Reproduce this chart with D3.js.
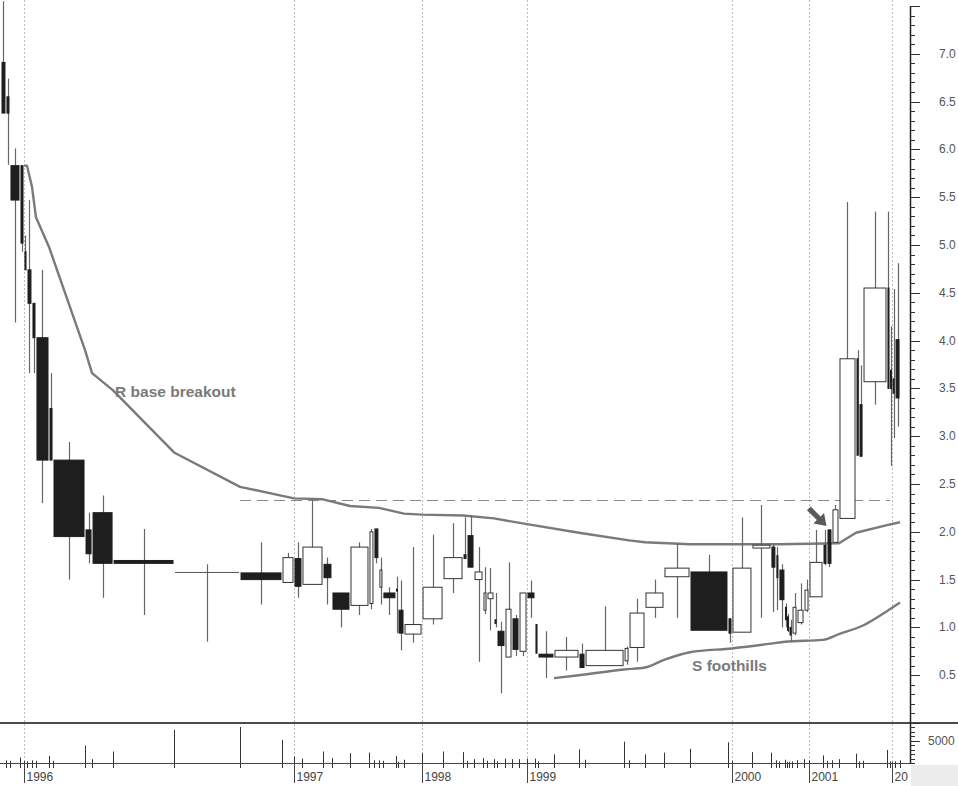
<!DOCTYPE html>
<html><head><meta charset="utf-8">
<script src="https://cdn.jsdelivr.net/npm/d3@7"></script>
<style>body{margin:0;background:#fff}svg{display:block}</style>
</head><body>
<script>
// ---- data ----
const opens  = [6.91,6.55,5.83,5.83,4.93,4.74,4.39,4.03,3.29,2.75,2.02,2.20,1.70,1.58,1.57,1.47,1.72,1.45,1.66,1.36,1.23,1.25,2.03,1.42,1.36,1.40,1.18,0.93,1.09,1.51,1.76,1.96,1.50,1.18,1.30,1.08,0.96,0.69,1.09,0.75,1.36,1.03,0.72,0.69,0.72,0.60,0.65,0.79,1.21,1.53,1.58,1.09,0.95,1.83,1.84,1.75,1.60,1.21,1.11,1.00,0.94,1.05,1.18,1.32,1.86,2.02,1.89,2.14,3.81,3.33,3.57,4.55,3.69,3.60,4.01];
const highs  = [7.55,6.74,6.01,5.83,5.10,5.47,4.39,4.74,3.66,2.94,2.20,2.38,2.03,1.66,1.89,1.78,1.89,2.33,1.73,1.36,1.89,2.03,2.03,1.73,1.42,1.53,1.49,1.84,1.97,2.09,2.15,2.17,1.84,1.63,1.62,1.36,1.06,1.68,1.13,1.36,1.49,1.03,0.96,0.90,0.83,1.22,0.80,1.30,1.50,1.88,1.76,1.09,2.15,2.28,1.88,1.84,1.66,1.25,1.14,1.08,1.36,1.46,1.50,2.02,2.02,2.02,2.28,5.45,3.90,3.74,5.35,5.35,4.15,4.54,4.81];
const lows   = [6.38,5.84,4.19,4.93,4.74,3.66,3.66,2.30,2.75,1.50,1.67,1.31,1.13,0.85,1.24,1.47,1.31,1.45,1.24,1.00,1.13,1.19,1.67,1.24,1.13,0.94,0.76,0.84,1.03,1.36,1.72,1.63,0.64,1.14,0.97,1.00,0.31,0.69,0.70,0.70,1.10,0.73,0.47,0.55,0.58,0.60,0.61,0.64,1.10,1.10,0.97,0.84,0.95,1.10,1.16,1.18,1.00,1.00,0.95,0.85,0.92,1.03,1.16,1.32,1.65,1.63,1.89,2.14,2.80,2.79,3.33,3.50,2.69,2.98,3.10];
const closes = [6.38,6.38,5.47,5.02,4.74,4.39,4.03,2.75,2.75,1.95,1.77,1.67,1.67,1.58,1.50,1.73,1.43,1.84,1.52,1.19,1.84,2.00,1.73,1.60,1.31,1.38,0.94,1.03,1.42,1.73,1.72,1.63,1.58,1.36,1.36,1.04,0.81,1.19,0.77,1.36,1.31,0.73,0.69,0.76,0.58,0.76,0.78,1.15,1.36,1.62,0.97,0.94,1.62,1.86,1.63,1.52,1.29,1.08,0.97,0.92,1.21,1.18,1.39,1.68,1.67,1.67,2.23,3.81,2.80,2.79,4.55,3.50,3.50,3.45,3.40];
const volumes = [610,490,1230,490,370,610,490,1600,490,3930,860,2580,7480,8100,5150,1470,980,2580,1100,2210,2330,610,610,490,1600,250,740,2210,2580,2450,490,860,1100,490,860,370,980,860,860,980,980,370,1960,3070,740,4790,610,1960,2330,3190,4660,490,2450,2330,610,370,740,250,250,370,610,860,610,1720,490,610,860,2090,370,490,2940,370,250,370,610];

const yearLabels   = ["1996","1997","1998","1999","2000","2001","20"];
const yearStartIdx = [4,16,28,40,52,63,73];

const priceTickLabels = [0.5,1.0,1.5,2.0,2.5,3.0,3.5,4.0,4.5,5.0,5.5,6.0,6.5,7.0];
const volumeTickLabels = [5000];

// moving averages: [candle boundary index, price]
const maUpper = [[4,5.83],[5,5.83],[6,5.61],[7,5.29],[8,4.98],[10,3.90],[11,3.66],[12,3.48],[13,2.83],[14,2.47],[16,2.35],[18,2.34],[20,2.27],[23,2.25],[27,2.19],[28,2.18],[30,2.17],[35,2.14],[40,2.08],[44,1.99],[47,1.91],[48,1.89],[50,1.87],[56,1.87],[67,1.88],[68,1.99],[71,2.07],[75,2.10]];
const maLower = [[43,0.47],[44,0.50],[46,0.56],[48,0.58],[49,0.66],[50,0.74],[52,0.78],[54,0.83],[57,0.85],[64,0.87],[67,0.93],[70,1.02],[71,1.17],[75,1.26]];

const breakout = {level: 2.33, from: 14, to: 72};
const labels = [
  {text: "R base breakout", b: 12, price: 3.41},
  {text: "S foothills", b: 50, price: 0.545}
];
const arrowTip = {b: 65, price: 2.06};

// ---- chart ----
const W = 958, H = 786;
const svg = d3.select("body").append("svg").attr("width", W).attr("height", H);

const cum = [0];
volumes.forEach(v => cum.push(cum[cum.length-1] + v));
const total = cum[cum.length-1];
const pxPerVol = 0.00815;
const x = d3.scaleLinear().domain([0, total]).range([1, 1 + total*pxPerVol]);
const y = d3.scaleLinear().domain([0, 7.5]).range([723, 6]);
const yv = d3.scaleLinear().domain([0, 9000]).range([763, 723]);
const axisX = 910;
const FONT = "Liberation Sans, Arial, sans-serif";

// year grid lines
const yearX = yearStartIdx.map(i => Math.round(x(cum[i])) + 0.5);
svg.append("g").selectAll("line").data(yearX).join("line")
  .attr("x1", d => d).attr("x2", d => d).attr("y1", 0).attr("y2", 763)
  .attr("stroke", "#bdbdbd").attr("stroke-width", 1).attr("stroke-dasharray", "2,2");

// dashed breakout level
svg.append("line")
  .attr("x1", x(cum[breakout.from])).attr("x2", x(cum[breakout.to]))
  .attr("y1", Math.round(y(breakout.level))+0.5).attr("y2", Math.round(y(breakout.level))+0.5)
  .attr("stroke", "#8a8a8a").attr("stroke-width", 1).attr("stroke-dasharray", "11,6");

// moving averages
const lineU = d3.line().x(d => x(cum[d[0]])).y(d => y(d[1]));
const lineL = d3.line().x(d => x(cum[d[0]])).y(d => y(d[1])).curve(d3.curveMonotoneX);
svg.append("path").attr("d", lineU(maUpper)).attr("fill", "none")
  .attr("stroke", "#7a7a7a").attr("stroke-width", 2.4).attr("stroke-linejoin", "round");
svg.append("path").attr("d", lineL(maLower)).attr("fill", "none")
  .attr("stroke", "#7a7a7a").attr("stroke-width", 2.4).attr("stroke-linejoin", "round");

// candles
const candles = opens.map((o, i) => ({o, h: highs[i], l: lows[i], c: closes[i], v: volumes[i], x0: x(cum[i]), x1: x(cum[i+1])}));
const g = svg.append("g");
g.selectAll("line.wick").data(candles).join("line").attr("class", "wick")
  .attr("x1", d => Math.round((d.x0 + d.x1)/2) + 0.5).attr("x2", d => Math.round((d.x0 + d.x1)/2) + 0.5)
  .attr("y1", d => y(d.h)).attr("y2", d => y(d.l))
  .attr("stroke", "#666").attr("stroke-width", 1.2);
g.selectAll("rect.body").data(candles).join("rect").attr("class", "body")
  .attr("x", d => { const w = Math.max(1, d.x1 - d.x0 - 2); return (d.x0 + d.x1)/2 - w/2; })
  .attr("width", d => Math.max(1, d.x1 - d.x0 - 2))
  .attr("y", d => y(Math.max(d.o, d.c)))
  .attr("height", d => Math.max(1, Math.abs(y(d.o) - y(d.c))))
  .attr("fill", d => d.c < d.o ? "#1e1e1e" : (d.c === d.o ? "#555" : "#fff"))
  .attr("stroke", d => d.c < d.o ? "#1e1e1e" : (d.c === d.o ? "none" : "#333"))
  .attr("stroke-width", 1);

// annotations
svg.selectAll("text.ann").data(labels).join("text").attr("class", "ann")
  .attr("x", d => x(cum[d.b]) + 2).attr("y", d => y(d.price))
  .attr("font-family", FONT).attr("font-weight", "bold")
  .attr("font-size", 15.5).attr("fill", "#7a7a7a").text(d => d.text);

// arrow
(function(){
  const tx = x(cum[arrowTip.b]) - 0.5, ty = y(arrowTip.price);
  const pts = [[0,0],[-11,7.5],[-11,2.6],[-25,2.6],[-25,-2.6],[-11,-2.6],[-11,-7.5]];
  const s = Math.SQRT1_2;
  const p = pts.map(([u,v]) => [tx + (u - v)*s, ty + (u + v)*s]);
  svg.append("path").attr("d", "M" + p.map(q => q.join(",")).join("L") + "Z").attr("fill", "#5a5a5a");
})();

// separator between panels
svg.append("line").attr("x1", 0).attr("x2", W).attr("y1", 723).attr("y2", 723)
  .attr("stroke", "#4a4a4a").attr("stroke-width", 2);

// volume lines
svg.append("g").selectAll("line").data(candles).join("line")
  .attr("x1", d => Math.round(d.x1) + 0.5).attr("x2", d => Math.round(d.x1) + 0.5)
  .attr("y1", d => yv(d.v)).attr("y2", 768)
  .attr("stroke", "#333").attr("stroke-width", 1);

// bottom axis line
svg.append("line").attr("x1", 0).attr("x2", axisX).attr("y1", 763.5).attr("y2", 763.5)
  .attr("stroke", "#444").attr("stroke-width", 1);

// gray box bottom right
svg.append("rect").attr("x", axisX + 1).attr("y", 765).attr("width", W - axisX).attr("height", H - 765).attr("fill", "#ececec");

// year ticks & labels
const yg = svg.append("g");
yg.selectAll("line").data(yearX).join("line")
  .attr("x1", d => d).attr("x2", d => d).attr("y1", 763).attr("y2", 783)
  .attr("stroke", "#444").attr("stroke-width", 1);
yg.selectAll("text").data(yearLabels).join("text")
  .attr("x", (d, i) => yearX[i] + 2).attr("y", 781)
  .attr("font-family", FONT).attr("font-size", 12)
  .attr("fill", "#444").text(d => d);

// right price axis
svg.append("line").attr("x1", axisX + 0.5).attr("x2", axisX + 0.5).attr("y1", 6).attr("y2", 764)
  .attr("stroke", "#222").attr("stroke-width", 1.5);
const minor = d3.range(0, 76).map(k => k / 10);
svg.append("g").selectAll("line").data(minor).join("line")
  .attr("x1", axisX).attr("x2", d => axisX + (Math.round(d*10) % 5 === 0 ? 10 : 5))
  .attr("y1", d => Math.round(y(d)) + 0.5).attr("y2", d => Math.round(y(d)) + 0.5)
  .attr("stroke", "#333").attr("stroke-width", 1);
svg.append("g").selectAll("text").data(priceTickLabels).join("text")
  .attr("x", 939).attr("y", d => y(d) + 4)
  .attr("font-family", FONT).attr("font-size", 12)
  .attr("fill", "#555").text(d => d3.format(".1f")(d));

// volume axis
const vminor = d3.range(0, 9001, 1000);
svg.append("g").selectAll("line").data(vminor).join("line")
  .attr("x1", axisX).attr("x2", d => axisX + (d === 5000 ? 10 : 5))
  .attr("y1", d => Math.round(yv(d)) + 0.5).attr("y2", d => Math.round(yv(d)) + 0.5)
  .attr("stroke", "#333").attr("stroke-width", 1);
svg.append("g").selectAll("text").data(volumeTickLabels).join("text")
  .attr("x", 928).attr("y", d => yv(d) + 4)
  .attr("font-family", FONT).attr("font-size", 12)
  .attr("fill", "#555").text(d => d);
</script>
</body></html>
